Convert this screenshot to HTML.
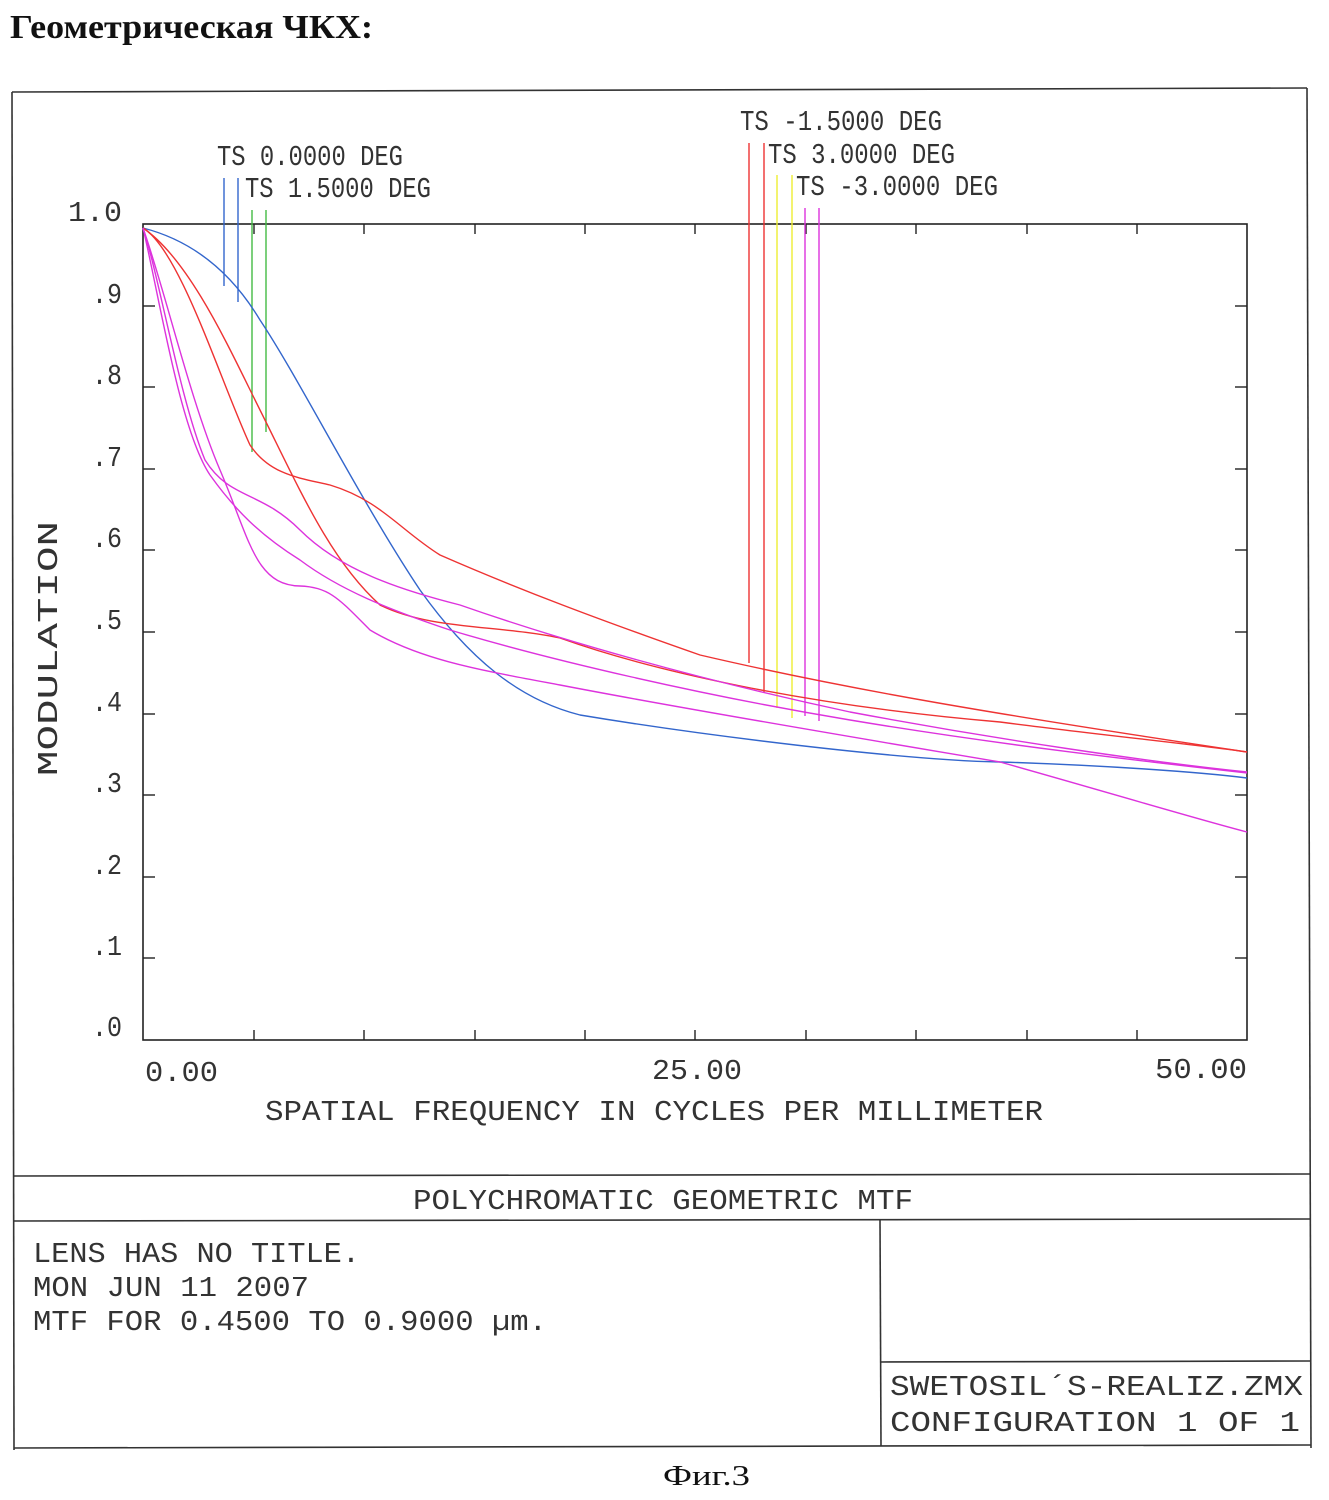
<!DOCTYPE html>
<html><head><meta charset="utf-8"><style>
html,body{margin:0;padding:0;background:#fff;}
body{width:1329px;height:1500px;position:relative;overflow:hidden;}
</style></head><body>
<svg width="1329" height="1500" xmlns="http://www.w3.org/2000/svg" style="position:absolute;left:0;top:0">
<text x="10" y="38" font-family="Liberation Serif, serif" font-weight="bold" font-size="34" fill="#111" textLength="363" lengthAdjust="spacingAndGlyphs">Геометрическая ЧКХ:</text>
<g stroke="#333" stroke-width="1.6" fill="none">
<line x1="12" y1="92" x2="1307" y2="88"/>
<line x1="12" y1="92" x2="14" y2="1450"/>
<line x1="1307" y1="88" x2="1311" y2="1448"/>
<line x1="14" y1="1176" x2="1311" y2="1174"/>
<line x1="14" y1="1221" x2="1311" y2="1219"/>
<line x1="14" y1="1448" x2="1311" y2="1445"/>
<line x1="880" y1="1220" x2="881" y2="1446"/>
<line x1="880" y1="1362" x2="1311" y2="1361"/>
<rect x="143" y="224" width="1104" height="816" stroke="#222"/>
</g>
<g stroke="#222" stroke-width="1.4">
<line x1="254" y1="1040" x2="254" y2="1030"/><line x1="364" y1="1040" x2="364" y2="1030"/><line x1="475" y1="1040" x2="475" y2="1030"/><line x1="585" y1="1040" x2="585" y2="1030"/><line x1="695" y1="1040" x2="695" y2="1030"/><line x1="806" y1="1040" x2="806" y2="1030"/><line x1="916" y1="1040" x2="916" y2="1030"/><line x1="1027" y1="1040" x2="1027" y2="1030"/><line x1="1137" y1="1040" x2="1137" y2="1030"/>
<line x1="254" y1="224" x2="254" y2="234"/><line x1="364" y1="224" x2="364" y2="234"/><line x1="475" y1="224" x2="475" y2="234"/><line x1="585" y1="224" x2="585" y2="234"/><line x1="695" y1="224" x2="695" y2="234"/><line x1="806" y1="224" x2="806" y2="234"/><line x1="916" y1="224" x2="916" y2="234"/><line x1="1027" y1="224" x2="1027" y2="234"/><line x1="1137" y1="224" x2="1137" y2="234"/>
<line x1="143" y1="306" x2="155" y2="306"/><line x1="143" y1="387" x2="155" y2="387"/><line x1="143" y1="469" x2="155" y2="469"/><line x1="143" y1="550" x2="155" y2="550"/><line x1="143" y1="632" x2="155" y2="632"/><line x1="143" y1="714" x2="155" y2="714"/><line x1="143" y1="795" x2="155" y2="795"/><line x1="143" y1="877" x2="155" y2="877"/><line x1="143" y1="958" x2="155" y2="958"/>
<line x1="1247" y1="306" x2="1235" y2="306"/><line x1="1247" y1="387" x2="1235" y2="387"/><line x1="1247" y1="469" x2="1235" y2="469"/><line x1="1247" y1="550" x2="1235" y2="550"/><line x1="1247" y1="632" x2="1235" y2="632"/><line x1="1247" y1="714" x2="1235" y2="714"/><line x1="1247" y1="795" x2="1235" y2="795"/><line x1="1247" y1="877" x2="1235" y2="877"/><line x1="1247" y1="958" x2="1235" y2="958"/>
</g>
<g font-family="Liberation Mono, monospace" font-size="29" fill="#333" lengthAdjust="spacingAndGlyphs">
<text x="68" y="221" textLength="54" lengthAdjust="spacingAndGlyphs">1.0</text>
<text x="92" y="303" textLength="30" lengthAdjust="spacingAndGlyphs">.9</text>
<text x="92" y="384" textLength="30" lengthAdjust="spacingAndGlyphs">.8</text>
<text x="92" y="466" textLength="30" lengthAdjust="spacingAndGlyphs">.7</text>
<text x="92" y="547" textLength="30" lengthAdjust="spacingAndGlyphs">.6</text>
<text x="92" y="629" textLength="30" lengthAdjust="spacingAndGlyphs">.5</text>
<text x="92" y="711" textLength="30" lengthAdjust="spacingAndGlyphs">.4</text>
<text x="92" y="792" textLength="30" lengthAdjust="spacingAndGlyphs">.3</text>
<text x="92" y="874" textLength="30" lengthAdjust="spacingAndGlyphs">.2</text>
<text x="92" y="955" textLength="30" lengthAdjust="spacingAndGlyphs">.1</text>
<text x="92" y="1036" textLength="30" lengthAdjust="spacingAndGlyphs">.0</text>
<text x="145" y="1081" textLength="73" lengthAdjust="spacingAndGlyphs">0.00</text>
<text x="652" y="1079" textLength="90" lengthAdjust="spacingAndGlyphs">25.00</text>
<text x="1155" y="1078" textLength="92" lengthAdjust="spacingAndGlyphs">50.00</text>
<text x="265" y="1120" textLength="778" lengthAdjust="spacingAndGlyphs">SPATIAL FREQUENCY IN CYCLES PER MILLIMETER</text>
<text transform="translate(57,776) rotate(-90)" textLength="255" lengthAdjust="spacingAndGlyphs">MODULATION</text>
<text x="217" y="165" textLength="186" lengthAdjust="spacingAndGlyphs">TS 0.0000 DEG</text>
<text x="245" y="197" textLength="186" lengthAdjust="spacingAndGlyphs">TS 1.5000 DEG</text>
<text x="740" y="130" textLength="202" lengthAdjust="spacingAndGlyphs">TS -1.5000 DEG</text>
<text x="768" y="163" textLength="187" lengthAdjust="spacingAndGlyphs">TS 3.0000 DEG</text>
<text x="796" y="195" textLength="202" lengthAdjust="spacingAndGlyphs">TS -3.0000 DEG</text>
<text x="413" y="1209" textLength="500" lengthAdjust="spacingAndGlyphs">POLYCHROMATIC GEOMETRIC MTF</text>
<text x="33" y="1262" textLength="327" lengthAdjust="spacingAndGlyphs">LENS HAS NO TITLE.</text>
<text x="33" y="1296" textLength="276" lengthAdjust="spacingAndGlyphs">MON JUN 11 2007</text>
<text x="33" y="1330" textLength="514" lengthAdjust="spacingAndGlyphs">MTF FOR 0.4500 TO 0.9000 µm.</text>
<text x="890" y="1395" textLength="413" lengthAdjust="spacingAndGlyphs">SWETOSIL´S-REALIZ.ZMX</text>
<text x="890" y="1431" textLength="410" lengthAdjust="spacingAndGlyphs">CONFIGURATION 1 OF 1</text>
</g>
<g fill="none" stroke-width="1.4">
<line x1="224" y1="178" x2="224" y2="286" stroke="#36c"/><line x1="238" y1="178" x2="238" y2="302" stroke="#36c"/>
<line x1="252" y1="210" x2="252" y2="452" stroke="#4b4"/><line x1="266" y1="210" x2="266" y2="432" stroke="#4b4"/>
<line x1="749" y1="143" x2="749" y2="663" stroke="#e33"/><line x1="764" y1="143" x2="764" y2="692" stroke="#e33"/>
<line x1="777" y1="175" x2="777" y2="708" stroke="#ee3"/><line x1="792" y1="175" x2="792" y2="718" stroke="#ee3"/>
<line x1="805" y1="208" x2="805" y2="716" stroke="#d3d"/><line x1="819" y1="208" x2="819" y2="721" stroke="#d3d"/>
<path stroke="#36c" d="M143,228 C190,240 230,270 260,320 C300,380 360,500 420,590 C470,660 520,700 580,715 C700,735 900,760 1000,762 C1100,765 1200,772 1247,778"/>
<path stroke="#e33" d="M143,228 C180,250 220,380 250,445 C270,475 300,478 330,485 C380,500 400,530 440,555 C520,590 600,620 700,655 C850,690 1000,715 1247,752"/>
<path stroke="#e33" d="M143,228 C190,260 230,350 260,410 C300,490 330,560 380,605 C430,630 500,625 560,638 C650,670 800,705 1000,722 C1100,735 1200,745 1247,752"/>
<path stroke="#d3d" d="M143,228 C165,290 190,400 220,470 C250,540 255,585 300,586 C330,587 340,600 370,630 C420,660 480,670 560,685 C700,712 900,745 1000,762 C1100,790 1200,820 1247,832"/>
<path stroke="#d3d" d="M143,228 C160,300 180,430 210,475 C235,510 260,535 300,560 C340,590 390,610 450,630 C550,660 700,695 850,720 C1000,745 1150,762 1247,773"/>
<path stroke="#d3d" d="M143,228 C160,280 180,400 205,460 C230,500 260,490 300,530 C340,570 400,590 460,605 C560,640 700,680 850,712 C1000,740 1150,762 1247,772"/>
</g>
<text x="663" y="1485" font-family="Liberation Serif, serif" font-size="28" fill="#111" textLength="87" lengthAdjust="spacingAndGlyphs">Фиг.3</text>
</svg>
</body></html>
